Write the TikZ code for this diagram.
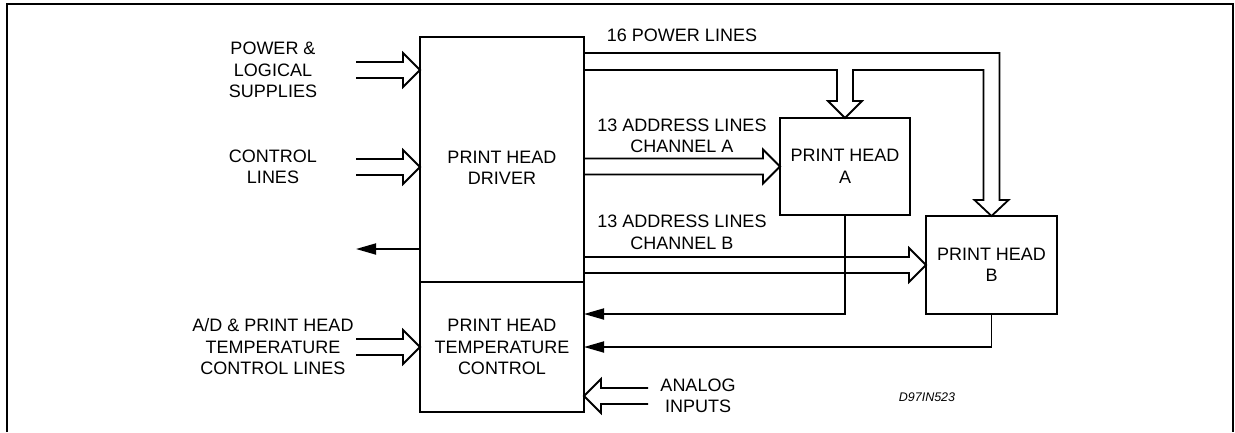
\documentclass[tikz,border=0pt]{standalone}
\usepackage{fontspec}
\setmainfont{Liberation Sans}
\usetikzlibrary{positioning,calc,arrows.meta}

\begin{document}
\begin{tikzpicture}[x=1pt, y=-1pt,
    font=\fontsize{18}{21.5}\selectfont,
    box/.style={draw, line width=2pt, outer sep=0pt, inner sep=0pt, align=center},
    bus/.style={line width=1.8pt, line join=miter},
    sig/.style={line width=1.8pt, -{Triangle[length=20pt,width=11pt]}},
    lbl/.style={align=center}]

    \useasboundingbox (0,0) rectangle (1235,432);

    % Outer frame
    \draw[line width=2pt] (7,432) -- (7,4) -- (1233,4) -- (1233,432);

    %% Blocks

    % Driver and temperature control
    \node[box, minimum width=164pt, minimum height=245pt] (drv) at (502,159.5) {};
    \node[lbl] (drvtxt) at (502,168) {PRINT HEAD\\DRIVER};
    \node[box, minimum width=164pt, minimum height=130pt, below=0pt of drv] (tmp) {PRINT HEAD\\TEMPERATURE\\CONTROL};

    % Print heads
    \node[box, minimum width=130pt, minimum height=97pt] (pha) at (845,166.5) {PRINT HEAD\\A};
    \node[box, minimum width=131pt, minimum height=98pt] (phb) at (991.5,265) {PRINT HEAD\\B};

    %% Labels
    \node[lbl] (pwr) at (273,70) {POWER \&\\LOGICAL\\SUPPLIES};
    \node[lbl] (ctl) at (273,167) {CONTROL\\LINES};
    \node[lbl] (adc) at (273,347) {A/D \& PRINT HEAD\\TEMPERATURE\\CONTROL LINES};
    \node[lbl] (pwrlines) at (682,35) {16 POWER LINES};
    \node[lbl] (adra) at (682,136) {13 ADDRESS LINES\\CHANNEL A};
    \node[lbl] (adrb) at (682,232.5) {13 ADDRESS LINES\\CHANNEL B};
    \node[lbl] (anl) at (698,396) {ANALOG\\INPUTS};
    \node[font=\fontsize{12.5}{14}\selectfont\itshape] (code) at (927,397) {D97IN523};

    %% Buses

    % Power & logical supplies
    \draw[bus] (drv.west |- pwr) ++(-64,-8) -- ++(47,0) -- ++(0,-9) -- (drv.west |- pwr) -- ++(-17,17) -- ++(0,-9) -- ++(-47,0);

    % Control lines
    \draw[bus] (drv.west |- ctl) ++(-64,-8) -- ++(47,0) -- ++(0,-9) -- (drv.west |- ctl) -- ++(-17,17) -- ++(0,-9) -- ++(-47,0);

    % A/D and temperature control lines
    \draw[bus] (tmp.west |- adc) ++(-64,-8) -- ++(47,0) -- ++(0,-9) -- (tmp.west |- adc) -- ++(-17,17) -- ++(0,-9) -- ++(-47,0);

    % Address lines channel A
    \draw[bus] (pha.west) ++(-196,-8) -- ++(179,0) -- ++(0,-9) -- (pha.west) -- ++(-17,17) -- ++(0,-9) -- ++(-179,0);

    % Address lines channel B
    \draw[bus] (phb.west) ++(-342,-8) -- ++(325,0) -- ++(0,-9) -- (phb.west) -- ++(-17,17) -- ++(0,-9) -- ++(-325,0);

    % Analog inputs
    \draw[bus] (tmp.east |- anl) ++(64,-8) -- ++(-47,0) -- ++(0,-9) -- (tmp.east |- anl) -- ++(17,17) -- ++(0,-9) -- ++(47,0);

    % 16 power lines to both heads
    \draw[bus] ($(drv.north east)+(0,16)$) -| ($(phb.north)+(8,-16)$) -- ++(9,0) -- (phb.north) -- ++(-17,-16) -- ++(9,0)
        |- ($(pha.north)+(8,-48)$) -- ++(0,31) -- ++(9,0) -- (pha.north) -- ++(-17,-17) -- ++(9,0) |- ($(drv.north east)+(0,33)$);

    %% Single lines

    % Feedback from print heads
    \draw[sig] (pha.south) |- ($(tmp.north east)+(0,32)$);
    \draw[sig] (phb.south) |- ($(tmp.north east)+(0,65)$);

    % Driver output
    \coordinate (drvout) at (356,249);
    \draw[sig] (drv.west |- drvout) -- (drvout);

\end{tikzpicture}
\end{document}
